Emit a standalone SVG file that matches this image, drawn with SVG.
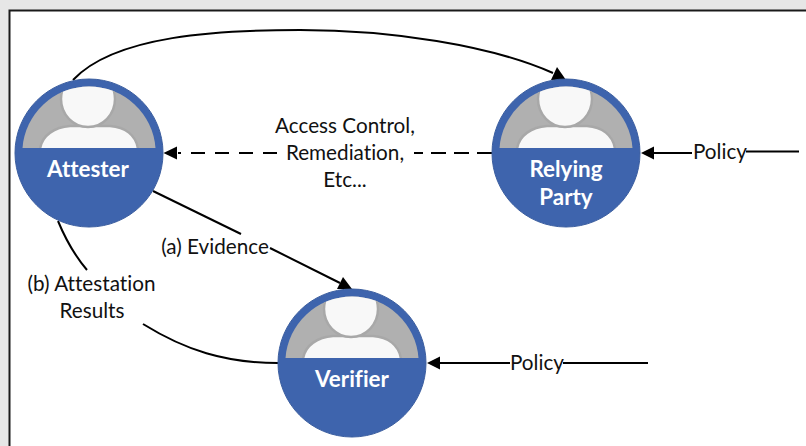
<svg xmlns="http://www.w3.org/2000/svg" xmlns:xlink="http://www.w3.org/1999/xlink" width="806" height="446" viewBox="0 0 806 446">
<style>
.conn{fill:none;stroke:#000;stroke-width:2}
.head{fill:#000}
.lbl{font-family:"Lato","Liberation Sans",sans-serif;font-size:20.7px;fill:#111;text-anchor:middle;font-variant-ligatures:none}
.name{font-family:"Lato","Liberation Sans",sans-serif;font-size:22.4px;font-weight:700;fill:#fff;text-anchor:middle;font-variant-ligatures:none}
</style>
<defs>
<clipPath id="seg"><path d="M-66.5,-5A66.7,66.7 0 0 1 66.5,-5Z"/></clipPath>
<g id="person">
<circle r="74" fill="#3e64ad" stroke="#3a5d9f" stroke-width="1"/>
<path d="M-66.5,-5A66.7,66.7 0 0 1 66.5,-5Z" fill="#b0b0b0"/>
<g clip-path="url(#seg)" fill="#f8f8f8" stroke="#a8a8a8" stroke-width="2.500">
<path d="M-49,-4C-47,-18 -34,-26 -19,-27L21,-27C36,-26 47,-18 49,-4L49,2L-49,2Z"/>
<ellipse cx="-1" cy="-54" rx="27" ry="28"/>
</g>
</g>
</defs>
<rect width="806" height="446" fill="#e6e6e6"/>
<rect x="9.500" y="10.500" width="797" height="436" fill="#fff"/>
<path d="M9.500,446V10.500H806" fill="none" stroke="#1a1a1a" stroke-width="2"/>
<g id="connectors">
<path class="conn" d="M73,80C115,35 220,30 300,30C390,30 490,45 553,73"/>
<polygon class="head" points="557,67 551,80 566,80"/>
<path class="conn" d="M277,153H178" stroke-dasharray="14 10"/>
<path class="conn" d="M492,153H414" stroke-dasharray="15 8"/>
<polygon class="head" points="163.500,153 177,146.500 177,159.500"/>
<path class="conn" d="M153,191L241,234"/>
<path class="conn" d="M270,248L340,283"/>
<polygon class="head" points="343,277 337,289 352,289"/>
<path class="conn" d="M58,221Q70,250 87,270"/>
<path class="conn" d="M143,324C185,350 225,363 278,363"/>
<path class="conn" d="M654,153H692"/>
<path class="conn" d="M746,151.500H799"/>
<polygon class="head" points="641,153 654,146.500 654,159.500"/>
<path class="conn" d="M440,363H510"/>
<path class="conn" d="M563,363H648"/>
<polygon class="head" points="427,363 440,356.500 440,369.500"/>
<text class="lbl" x="345" y="133">Access Control,</text>
<text class="lbl" x="345" y="160">Remediation,</text>
<text class="lbl" x="345" y="187">Etc...</text>
<text class="lbl" x="215" y="254">(a) Evidence</text>
<text class="lbl" x="91.500" y="291">(b) Attestation</text>
<text class="lbl" x="92" y="318">Results</text>
<text class="lbl" x="720" y="159">Policy</text>
<text class="lbl" x="537" y="370">Policy</text>
</g>
<g id="attester"><use xlink:href="#person" href="#person" transform="translate(89,153)"/><text class="name" x="88" y="177">Attester</text></g>
<g id="relying-party"><use xlink:href="#person" href="#person" transform="translate(566,153)"/><text class="name" x="566" y="177">Relying</text><text class="name" x="566" y="205">Party</text></g>
<g id="verifier"><use xlink:href="#person" href="#person" transform="translate(352,363)"/><text class="name" x="352" y="387">Verifier</text></g>
</svg>
